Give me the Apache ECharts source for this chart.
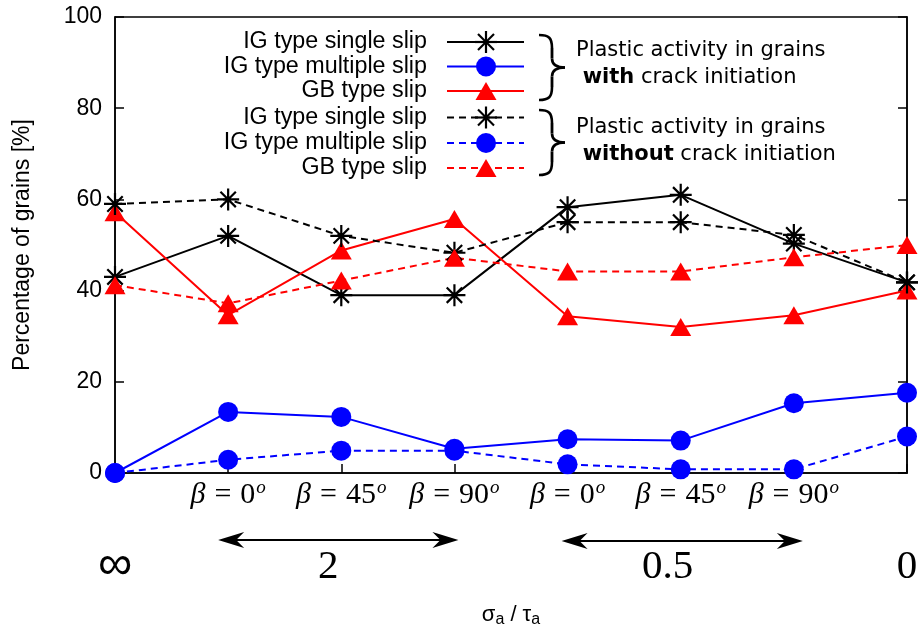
<!DOCTYPE html>
<html>
<head>
<meta charset="utf-8">
<script src="https://cdn.jsdelivr.net/npm/echarts@6/dist/echarts.min.js"></script>
<style>
html,body{margin:0;padding:0;background:#fff;}
#c{width:922px;height:630px;}
</style>
</head>
<body>
<div id="c"></div>
<script>
// ---- data ----
const categories = ['inf-', '2-0', '2-45', '2-90', '0.5-0', '0.5-45', '0.5-90', '0-'];
const betaLabels = ['', '0', '45', '90', '0', '45', '90', ''];
const ratioLabels = ['\u221E', '', '2', '', '', '0.5', '', '0'];
const yTicks = [0, 20, 40, 60, 80, 100];

const igSingleWith     = [43.0, 52.0, 39.0, 39.0, 58.3, 61.0, 50.3, 41.8];
const igMultipleWith   = [0.0, 13.4, 12.3, 5.3, 7.4, 7.1, 15.3, 17.6];
const gbWith           = [57.2, 34.6, 48.8, 55.7, 34.4, 32.0, 34.6, 40.0];
const igSingleWithout  = [59.0, 60.0, 52.0, 48.3, 55.0, 55.0, 52.2, 41.8];
const igMultipleWithout= [0.0, 2.9, 4.9, 4.9, 1.9, 0.8, 0.8, 8.0];
const gbWithout        = [41.2, 37.2, 42.2, 47.2, 44.2, 44.2, 47.3, 50.0];

const legendNames = ['IG type single slip', 'IG type multiple slip', 'GB type slip',
                     'IG type single slip', 'IG type multiple slip', 'GB type slip'];

// ---- styles ----
const BLACK = '#000000', BLUE = '#0000ff', RED = '#ff0000';
const SANS = 'Liberation Sans, Arial, Helvetica, sans-serif';
const DSANS = 'DejaVu Sans, sans-serif';
const SERIF = 'Liberation Serif, DejaVu Serif, serif';
const STAR = 'path://M10,0L10,20M0,10L20,10M3,3L17,17M3,17L17,3';
const DASH = [7, 5];

function mkSeries(name, data, color, kind, dashed) {
  const s = {
    name: name, type: 'line', data: data, xAxisIndex: 0, yAxisIndex: 0,
    lineStyle: { color: color, width: 2, type: dashed ? DASH : 'solid' },
    showSymbol: true
  };
  if (kind === 'star') {
    s.symbol = STAR; s.symbolSize = 22;
    s.itemStyle = { color: 'none', borderColor: color, borderWidth: 2.2 };
  } else if (kind === 'circle') {
    s.symbol = 'circle'; s.symbolSize = 20;
    s.itemStyle = { color: color, borderWidth: 0 };
  } else {
    s.symbol = 'triangle'; s.symbolSize = [21, 18];
    s.itemStyle = { color: color, borderWidth: 0 };
  }
  return s;
}

const series = [
  mkSeries('with-single', igSingleWith, BLACK, 'star', false),
  mkSeries('with-multiple', igMultipleWith, BLUE, 'circle', false),
  mkSeries('with-gb', gbWith, RED, 'tri', false),
  mkSeries('without-single', igSingleWithout, BLACK, 'star', true),
  mkSeries('without-multiple', igMultipleWithout, BLUE, 'circle', true),
  mkSeries('without-gb', gbWithout, RED, 'tri', true)
];

const option = {
  animation: false,
  backgroundColor: '#fff',
  grid: { left: 115, right: 15, top: 17, bottom: 157, show: true, borderColor: BLACK, borderWidth: 1.5, containLabel: false },
  xAxis: [
    {
      type: 'category', data: categories, boundaryGap: false, position: 'bottom',
      axisLine: { show: true, lineStyle: { color: BLACK, width: 1.5 } },
      axisTick: { show: true, inside: true, length: 9, interval: 0, lineStyle: { color: BLACK, width: 1.5 } },
      splitLine: { show: false },
      axisLabel: {
        interval: 0, margin: 5, color: BLACK,
        formatter: function (v, i) {
          const b = betaLabels[i];
          if (!b) return '';
          return '{b|\u03B2}{e|=}{n|' + b + '}{s|o}';
        },
        rich: {
          b: { fontFamily: SERIF, fontStyle: 'italic', fontSize: 30, color: BLACK, lineHeight: 34 },
          e: { fontFamily: SERIF, fontSize: 30, color: BLACK, lineHeight: 34, padding: [0, 9, 0, 9] },
          n: { fontFamily: SERIF, fontSize: 30, color: BLACK, lineHeight: 34 },
          s: { fontFamily: SERIF, fontStyle: 'italic', fontSize: 19, color: BLACK, verticalAlign: 'top', lineHeight: 34, padding: [0, 0, 14, 1] }
        }
      }
    },
    {
      type: 'category', data: categories, boundaryGap: false, position: 'bottom',
      axisLine: { show: false }, axisTick: { show: false }, splitLine: { show: false },
      axisLabel: {
        interval: 0, margin: 71, color: BLACK, fontFamily: SERIF, fontSize: 41, lineHeight: 46,
        formatter: function (v, i) {
          const r = ratioLabels[i];
          if (!r) return '';
          if (r === '\u221E') return '{inf|' + r + '}';
          if (r === '2' || r === '0.5') return '{sh|' + r + '}';
          return '{r|' + r + '}';
        },
        rich: {
          r: { fontFamily: SERIF, fontSize: 41, color: BLACK, lineHeight: 46 },
          sh: { fontFamily: SERIF, fontSize: 41, color: BLACK, lineHeight: 46, padding: [0, 26, 0, 0] },
          inf: { fontFamily: 'DejaVu Sans, sans-serif', fontWeight: 200, fontSize: 48, color: BLACK, lineHeight: 46 }
        }
      }
    }
  ],
  yAxis: [
    {
      type: 'value', min: 0, max: 100, interval: 20, position: 'left',
      axisLine: { show: true, lineStyle: { color: BLACK, width: 1.5 } },
      axisTick: { show: true, inside: true, length: 9, lineStyle: { color: BLACK, width: 1.5 } },
      splitLine: { show: false },
      axisLabel: { color: BLACK, fontFamily: SANS, fontSize: 23, margin: 13 },
      name: 'Percentage of grains [%]', nameLocation: 'middle', nameGap: 81, nameRotate: 90,
      nameTextStyle: { color: BLACK, fontFamily: SANS, fontSize: 23 }
    },
    {
      type: 'value', min: 0, max: 100, interval: 20, position: 'right',
      axisLine: { show: true, lineStyle: { color: BLACK, width: 1.5 } },
      axisTick: { show: true, inside: true, length: 9, lineStyle: { color: BLACK, width: 1.5 } },
      splitLine: { show: false }, axisLabel: { show: false }
    }
  ],
  series: series
};

const chart = echarts.init(document.getElementById('c'), null, { renderer: 'canvas' });
chart.setOption(option);

// ---- annotations: legend, braces, arrows, axis title ----
const g = [];
const rowY = [42, 66.5, 91, 117.5, 143, 168];
const kinds = ['star', 'circle', 'tri', 'star', 'circle', 'tri'];
const colors = [BLACK, BLUE, RED, BLACK, BLUE, RED];
function seg(x1, y1, x2, y2, w) {
  return { type: 'line', shape: { x1: x1, y1: y1, x2: x2, y2: y2 }, style: { stroke: BLACK, lineWidth: w || 2 } };
}
for (let i = 0; i < 6; i++) {
  const y = rowY[i];
  const dashed = i >= 3;
  g.push({ type: 'text', x: 427, y: y, style: { text: legendNames[i], fill: BLACK, font: '23.3px ' + SANS, align: 'right', verticalAlign: 'middle' } });
  g.push({ type: 'line', shape: { x1: 447, y1: y, x2: 524, y2: y }, style: { stroke: colors[i], lineWidth: 2, lineDash: dashed ? DASH : null } });
  const cx = 486;
  if (kinds[i] === 'star') {
    g.push(seg(cx, y - 11, cx, y + 11, 2.2));
    g.push(seg(cx - 11, y, cx + 11, y, 2.2));
    g.push(seg(cx - 8, y - 8, cx + 8, y + 8, 2.2));
    g.push(seg(cx - 8, y + 8, cx + 8, y - 8, 2.2));
  } else if (kinds[i] === 'circle') {
    g.push({ type: 'circle', shape: { cx: cx, cy: y, r: 10 }, style: { fill: colors[i] } });
  } else {
    g.push({ type: 'polygon', shape: { points: [[cx, y - 9], [cx + 10.5, y + 9], [cx - 10.5, y + 9]] }, style: { fill: colors[i] } });
  }
}
function bz(x1, y1, c1x, c1y, c2x, c2y, x2, y2) {
  return { type: 'bezierCurve', shape: { x1: x1, y1: y1, cpx1: c1x, cpy1: c1y, cpx2: c2x, cpy2: c2y, x2: x2, y2: y2 },
    style: { stroke: BLACK, lineWidth: 2.6, fill: null } };
}
function brace(top, bot) {
  const m = (top + bot) / 2;
  const x0 = 539, x1 = 552, xt = 565;
  return [
    bz(x0, top, x1 - 3, top, x1, top + 3, x1, top + 13),
    seg(x1, top + 13, x1, m - 9, 2.8),
    bz(x1, m - 9, x1, m - 2, x1 + 5, m, xt, m),
    bz(xt, m, x1 + 5, m, x1, m + 2, x1, m + 9),
    seg(x1, m + 9, x1, bot - 13, 2.8),
    bz(x1, bot - 13, x1, bot - 3, x1 - 3, bot, x0, bot)
  ];
}
brace(35, 100).forEach(function (e) { g.push(e); });
brace(110, 175).forEach(function (e) { g.push(e); });
const grpText = [
  { y: 51, t: '{n|Plastic activity in grains}' },
  { y: 78, t: '{n| }{bb|with}{n| crack initiation}' },
  { y: 128, t: '{n|Plastic activity in grains}' },
  { y: 155, t: '{n| }{bb|without}{n| crack initiation}' }
];
grpText.forEach(function (o) {
  g.push({ type: 'text', x: 576, y: o.y, style: { text: o.t, verticalAlign: 'middle', align: 'left',
    rich: { n: { fontFamily: DSANS, fontSize: 21, fill: BLACK }, bb: { fontFamily: DSANS, fontSize: 21, fontWeight: 'bold', fill: BLACK } } } });
});

function arrow(xa, xb, y) {
  const L = 26, H = 8, N = 18;
  return [
    seg(xa + 6, y, xb - 6, y, 2),
    { type: 'polygon', shape: { points: [[xa, y], [xa + L, y - H], [xa + N, y], [xa + L, y + H]] }, style: { fill: BLACK } },
    { type: 'polygon', shape: { points: [[xb, y], [xb - L, y - H], [xb - N, y], [xb - L, y + H]] }, style: { fill: BLACK } }
  ];
}
const px = function (i) { return chart.convertToPixel({ xAxisIndex: 0 }, categories[i]); };
arrow(px(1) - 10, px(3) + 4, 540).forEach(function (e) { g.push(e); });
arrow(px(4) - 6, px(6) + 9, 541).forEach(function (e) { g.push(e); });

g.push({ type: 'text', x: (px(3) + px(4)) / 2, y: 615, style: {
  text: '{s|\u03C3}{a|a}{s| / \u03C4}{a|a}', align: 'center', verticalAlign: 'middle',
  rich: { s: { fontFamily: SANS, fontSize: 22, fill: BLACK, lineHeight: 26, verticalAlign: 'middle' },
          a: { fontFamily: SANS, fontSize: 16, fill: BLACK, lineHeight: 26, verticalAlign: 'bottom', padding: [9, 0, 0, 0] } } } });

chart.setOption({ graphic: g });
</script>
</body>
</html>
